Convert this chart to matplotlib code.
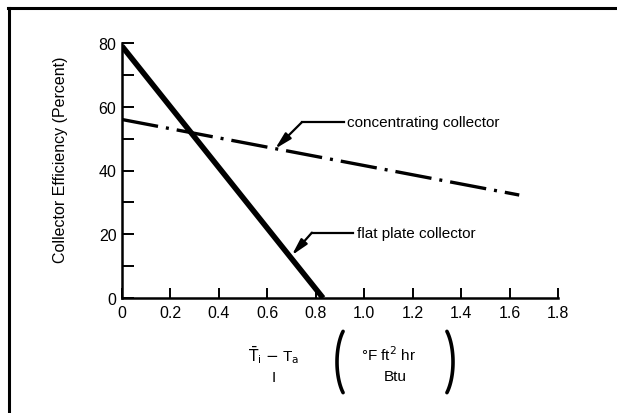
# collector efficiency vs. (Ti - Ta)/I for flat plate and concentrating collectors

import numpy as np
import matplotlib
matplotlib.use("Agg")
import matplotlib.pyplot as plt
from matplotlib.lines import Line2D

plt.rcParams['font.family'] = ['Liberation Sans', 'DejaVu Sans']

# data
flat_x = [0.0, 0.83]
flat_y = [79.0, 0.0]
conc_x = [0.0, 1.64]
conc_y = [56.0, 32.3]

x_ticks = [0, 0.2, 0.4, 0.6, 0.8, 1.0, 1.2, 1.4, 1.6, 1.8]
x_labels = ["0", "0.2", "0.4", "0.6", "0.8", "1.0", "1.2", "1.4", "1.6", "1.8"]
y_ticks = [0, 20, 40, 60, 80]
y_minor = [10, 30, 50, 70]

# annotation anchors (text start, elbow, arrow tip) in data units
conc_text = (0.93, 55.1)
conc_elbow = (0.742, 55.1)
conc_tip = (0.632, 46.8)
flat_text = (0.97, 20.5)
flat_elbow = (0.784, 20.5)
flat_tip = (0.701, 13.4)

W, H = 617, 414
fig = plt.figure(figsize=[6.17, 4.14], dpi=100)
ax = fig.add_axes([122/W, 1-299/H, 436/W, 255/H])

# lines
ax.plot(flat_x, flat_y, color='black', lw=4, solid_capstyle='butt')
ax.plot(conc_x, conc_y, color='black', lw=2.4, dashes=(11, 2.4, 0.9, 2.4),
        dash_capstyle='butt')

# labels with leader arrows
for txt, t, e, tip in [("concentrating collector", conc_text, conc_elbow, conc_tip),
                       ("flat plate collector", flat_text, flat_elbow, flat_tip)]:
    ax.plot([t[0] - 0.015, e[0]], [e[1], e[1]], color='black', lw=1.6)
    ax.annotate('', xy=tip, xytext=e,
                arrowprops=dict(arrowstyle='-|>,head_length=1.0,head_width=0.25',
                                color='black', lw=1.6, shrinkA=0, shrinkB=0))
    ax.text(t[0], t[1], txt, fontsize=11, va='center', ha='left')

# axes
ax.set_xlim(0, 1.8)
ax.set_ylim(0, 80)
for s in ['top', 'right']:
    ax.spines[s].set_visible(False)
for s in ['left', 'bottom']:
    ax.spines[s].set_linewidth(1.8)
ax.set_xticks(x_ticks)
ax.set_xticklabels(x_labels)
ax.set_yticks(y_ticks)
ax.set_yticks(y_minor, minor=True)
ax.tick_params(axis='x', direction='in', length=7.2, width=1.4, pad=5, labelsize=11.5)
ax.tick_params(axis='y', which='both', direction='in', length=8.4, width=1.4,
               pad=4, labelsize=11.5)
ax.set_ylabel("Collector Efficiency (Percent)", fontsize=11.5)
ax.yaxis.set_label_coords(68/W, 1-160/H, transform=fig.transFigure)

# x axis label drawn as a formula with big brackets
fig.text(274/W, 1-355/H, r"$\bar{\mathrm{T}}_{\mathrm{i}}$ $-$ T$_{\mathrm{a}}$",
         fontsize=11, ha='center', va='center')
fig.text(274/W, 1-378/H, "I", fontsize=11, ha='center', va='center')
fig.text(389/W, 1-355/H, "°F ft$^2$ hr", fontsize=11, ha='center', va='center')
fig.text(395/W, 1-377/H, "Btu", fontsize=11, ha='center', va='center')

# brackets as elliptic arcs in pixel units
t = np.linspace(-np.radians(50), np.radians(50), 40)
a, b, yc = 17, 40, 363
for xc, sgn in [(354, -1), (436, 1)]:
    px = xc + sgn * a * np.cos(t)
    py = yc + b * np.sin(t)
    fig.add_artist(Line2D(px / W, 1 - py / H, transform=fig.transFigure,
                          color='black', lw=2.6, solid_capstyle='round'))

# page frame
fig.add_artist(Line2D([8/W, 1], [1-8.5/H, 1-8.5/H], transform=fig.transFigure,
                      color='black', lw=2.2))
fig.add_artist(Line2D([9/W, 9/W], [0, 1-8.5/H], transform=fig.transFigure,
                      color='black', lw=2.2))

plt.savefig('out.png', dpi=100)
plt.close()
